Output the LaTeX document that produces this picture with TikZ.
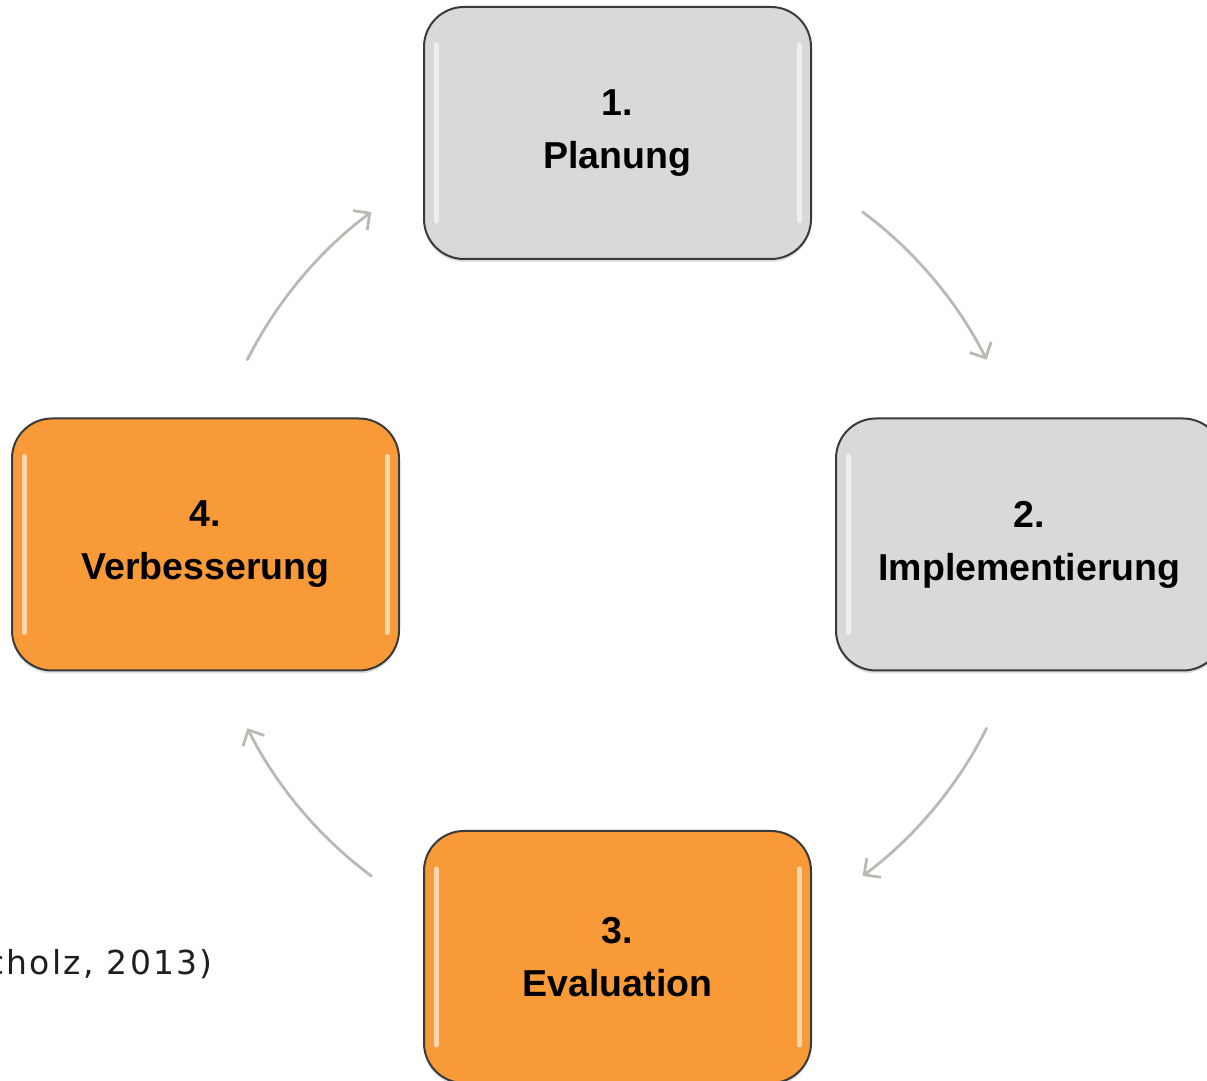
\documentclass[tikz,border=0pt]{standalone}
\usepackage{fontspec}
\setmainfont{Liberation Sans}
\newfontfamily\refont[LetterSpace=7]{DejaVu Sans}
\usetikzlibrary{arrows.meta,shadows}
\definecolor{boxgray}{HTML}{D9D9D9}
\definecolor{boxorange}{HTML}{F89A38}
\definecolor{boxline}{HTML}{3A3A3A}
\definecolor{arrgray}{HTML}{BCB8B2}
\tikzset{
  stepbox/.style={
    draw=boxline, line width=2pt, rounded corners=40pt,
    minimum width=387pt, minimum height=252pt, align=center,
    font=\bfseries\fontsize{37.5}{53}\selectfont, text=black,
    drop shadow={opacity=0.25, shadow xshift=0pt, shadow yshift=-3pt},
    path picture={
      \draw[white, opacity=0.6, line width=5pt, line cap=round]
        ([xshift=12pt,yshift=-38pt]path picture bounding box.north west)
        -- ([xshift=12pt,yshift=38pt]path picture bounding box.south west);
      \draw[white, opacity=0.6, line width=5pt, line cap=round]
        ([xshift=-12pt,yshift=-38pt]path picture bounding box.north east)
        -- ([xshift=-12pt,yshift=38pt]path picture bounding box.south east);
    }
  },
  cyclearrow/.style={draw=arrgray, line width=2.8pt, line cap=round,
    -{Straight Barb[length=12pt,width=24pt,line width=2.8pt]},
    bend left=13.5, looseness=0.85}
}
\begin{document}
\begin{tikzpicture}[x=1pt,y=1pt]
  \useasboundingbox (0,0) rectangle (1207,1081);
  \clip (0,0) rectangle (1207,1081);

  \node[stepbox, fill=boxgray]   (p1) at (617.5,948)   {1.\\Planung};
  \node[stepbox, fill=boxgray]   (p2) at (1029.5,536.5) {2.\\Implementierung};
  \node[stepbox, fill=boxorange] (p3) at (617.5,124)   {3.\\Evaluation};
  \node[stepbox, fill=boxorange] (p4) at (205.5,536.5) {4.\\Verbesserung};

  \coordinate (a1s) at ([shift={(617,537)}]53.5:413);
  \coordinate (a1e) at ([shift={(617,537)}]26.5:413);
  \coordinate (a2s) at ([shift={(617,537)}]-26.5:413);
  \coordinate (a2e) at ([shift={(617,537)}]-53.5:413);
  \coordinate (a3s) at ([shift={(617,537)}]-126.5:413);
  \coordinate (a3e) at ([shift={(617,537)}]-153.5:413);
  \coordinate (a4s) at ([shift={(617,537)}]153.5:413);
  \coordinate (a4e) at ([shift={(617,537)}]126.5:413);

  \draw[cyclearrow] (a1s) to (a1e);
  \draw[cyclearrow] (a2s) to (a2e);
  \draw[cyclearrow] (a3s) to (a3e);
  \draw[cyclearrow] (a4s) to (a4e);

  \node[anchor=base east, inner sep=0pt, font=\refont\fontsize{33}{40}\selectfont, text=black!88]
    (src) at (213,106) {cholz, 2013)};
\end{tikzpicture}
\end{document}
